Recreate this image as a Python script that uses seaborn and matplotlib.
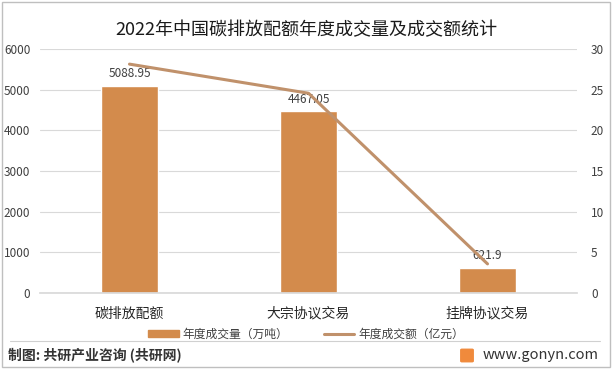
import numpy as np
import pandas as pd
import matplotlib.pyplot as plt
import matplotlib.patches as mpatches
import matplotlib.lines as mlines
import seaborn as sns

categories = ['碳排放配额', '大宗协议交易', '挂牌协议交易']
volume = [5088.95, 4467.05, 621.9]      # 年度成交量（万吨）
turnover = [28.14, 24.56, 3.58]         # 年度成交额（亿元）
left_ticks = [0, 1000, 2000, 3000, 4000, 5000, 6000]
right_ticks = [0, 5, 10, 15, 20, 25, 30]

bar_color = '#D38B4C'
line_color = '#C0916B'
grid_color = '#D9D9D9'
text_color = '#404040'

sns.set_theme(style='white')
plt.rcParams['font.family'] = ['Noto Sans CJK SC', 'DejaVu Sans']

df = pd.DataFrame({'cat': categories, 'vol': volume, 'amt': turnover})

W, H = 612, 369
fig = plt.figure(figsize=(W / 100, H / 100), dpi=100)
ax = fig.add_axes([40 / W, 1 - 293 / H, 537 / W, 244 / H])

sns.barplot(data=df, x='cat', y='vol', color=bar_color, width=0.32,
            saturation=1, ax=ax, zorder=2)
ax.set_ylim(0, 6000)
ax.set_xlim(-0.5, 2.5)
ax.set_yticks(left_ticks)
ax.yaxis.grid(True, color=grid_color, lw=0.8, zorder=0)
ax.set_axisbelow(True)
ax.set_xlabel('')
ax.set_ylabel('')
for s in ['left', 'right', 'top']:
    ax.spines[s].set_visible(False)
ax.spines['bottom'].set_color(grid_color)
ax.tick_params(axis='both', length=0, colors=text_color)
ax.tick_params(axis='y', labelsize=8.5, pad=7)
ax.tick_params(axis='x', labelsize=10, pad=10)
for lbl in ax.get_xticklabels():
    lbl.set_color('#262626')

for i, v in enumerate(volume):
    ax.annotate(f'{v:g}', (i, v), xytext=(0, 4),
                textcoords='offset points', ha='center', va='bottom',
                fontsize=8.5, color=text_color)

ax2 = ax.twinx()
sns.lineplot(data=df, x='cat', y='amt', color=line_color, lw=2.2, ax=ax2,
             sort=False)
ax2.set_ylim(0, 30)
ax2.set_yticks(right_ticks)
ax2.set_ylabel('')
for s in ax2.spines.values():
    s.set_visible(False)
ax2.tick_params(axis='y', length=0, labelsize=8.5, colors=text_color, pad=10)
ax2.grid(False)

fig.suptitle('2022年中国碳排放配额年度成交量及成交额统计', y=1 - 30 / H,
             fontsize=13, color='#1a1a1a', va='center')

h1 = mpatches.Patch(color=bar_color, label='年度成交量（万吨）')
h2 = mlines.Line2D([], [], color=line_color, lw=2.2, label='年度成交额（亿元）')
fig.legend(handles=[h1, h2], loc='center', bbox_to_anchor=(0.5, 1 - 334 / H),
           ncol=2, frameon=False, fontsize=8.5, handlelength=2.6,
           handleheight=0.5, columnspacing=3, handletextpad=0.3,
           labelcolor=text_color)

# footer
fig.add_artist(mlines.Line2D([10 / W, 600 / W], [1 - 341 / H, 1 - 341 / H],
                             color='#D0D0D0', lw=0.8))
fig.text(8 / W, 1 - 355 / H, '制图: 共研产业咨询 (共研网)', fontsize=10,
         fontweight='bold', color='#333333', va='center')
fig.text(599 / W, 1 - 355 / H, 'www.gonyn.com', fontsize=10.5,
         color='#333333', va='center', ha='right')
fig.add_artist(mpatches.FancyBboxPatch((462 / W, 1 - 361 / H), 10 / W, 11 / H,
                                       boxstyle='round,pad=0.002',
                                       color='#F08A3C'))
fig.add_artist(mpatches.Rectangle((2 / W, 2 / H), 608 / W, 365 / H,
                                  fill=False, ec='#BFBFBF', lw=1))

fig.savefig('out.png', dpi=100)
